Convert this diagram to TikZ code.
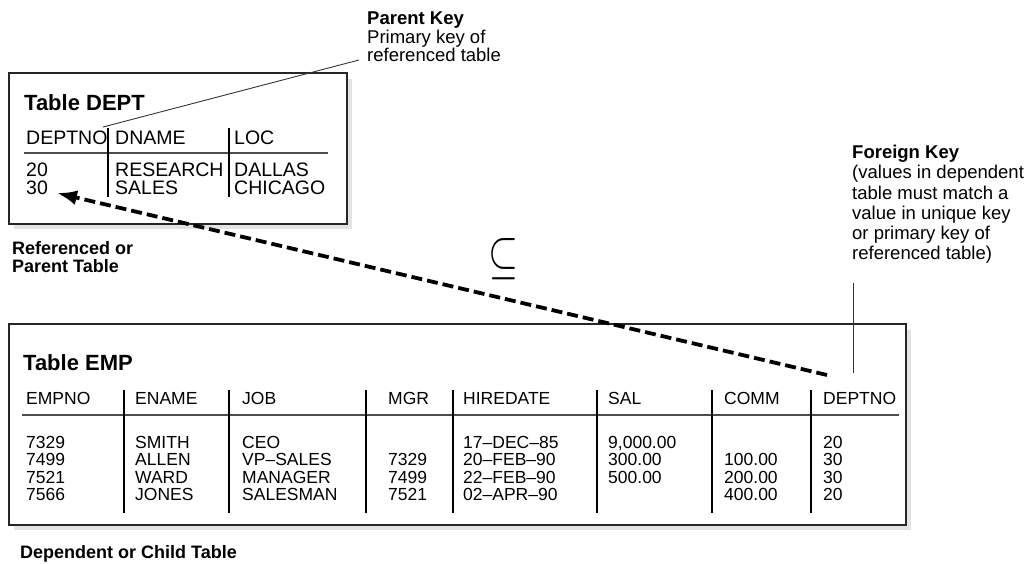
\documentclass[tikz,border=0pt]{standalone}
\usepackage{graphicx}
\usepackage{fontspec}
\setmainfont{Liberation Sans}
\usetikzlibrary{arrows.meta}

\begin{document}
\begin{tikzpicture}[x=1pt,y=-1pt,
    tablebox/.style={draw=black!85,line width=1.8pt,fill=white},
    boxshadow/.style={fill=black!11},
    tabletitle/.style={anchor=west,inner sep=0pt,font=\fontsize{22}{22}\selectfont\bfseries},
    head/.style={anchor=west,inner sep=0pt,font=\fontsize{17.5}{17.5}\selectfont},
    cell/.style={anchor=north west,inner sep=0pt,align=left,font=\fontsize{17.5}{17.5}\selectfont},
    bighead/.style={head,font=\fontsize{19.5}{18}\selectfont},
    bigcell/.style={cell,font=\fontsize{19.5}{18}\selectfont},
    colsep/.style={line width=1.8pt},
    headrule/.style={draw=black!70,line width=1.3pt},
    caption/.style={anchor=north west,inner sep=0pt,align=left,font=\fontsize{18}{18}\selectfont\bfseries},
    callout/.style={anchor=north west,inner sep=0pt,align=left},
    leader/.style={line width=0.9pt,draw=black!80}
  ]
  \useasboundingbox (0,0) rectangle (1031,563);

  % parent table
  \fill[boxshadow] (14,79) rectangle (352,229);
  \draw[tablebox] (9,73) rectangle (347,224);
  \node[tabletitle] (depttitle) at (24,103) {Table DEPT};
  \node[bighead] (deptno) at (26,138) {DEPTNO};
  \node[bighead] (dname) at (115,138) {DNAME};
  \node[bighead] (loc) at (234,138) {LOC};
  \draw[headrule] (24,153) -- (328,153);
  \draw[colsep] (108,128) -- (108,197);
  \draw[colsep] (229,128) -- (229,197);
  \node[bigcell] (deptnos) at (26,163) {20\\30};
  \node[bigcell] (dnames) at (115,163) {RESEARCH\\SALES};
  \node[bigcell] (locs) at (234,163) {DALLAS\\CHICAGO};
  \node[caption] (parentcap) at (12,241) {Referenced or\\Parent Table};

  % child table
  \fill[boxshadow] (14,330) rectangle (911,530);
  \draw[tablebox] (9,324) rectangle (906,525);
  \node[tabletitle] (emptitle) at (23,363) {Table EMP};
  \node[head] (empno) at (26,398) {EMPNO};
  \node[head] (ename) at (135,398) {ENAME};
  \node[head] (job) at (242,398) {JOB};
  \node[head] (mgr) at (388,398) {MGR};
  \node[head] (hiredate) at (463,398) {HIREDATE};
  \node[head] (sal) at (608,398) {SAL};
  \node[head] (comm) at (724,398) {COMM};
  \node[head] (empdept) at (823,398) {DEPTNO};
  \draw[headrule] (22,415) -- (899,415);
  \foreach \x in {124,229,366,453,597,712,811}
    \draw[colsep] (\x,390) -- (\x,513);
  \node[cell] (empnos) at (26,436) {7329\\7499\\7521\\7566};
  \node[cell] (enames) at (135,436) {SMITH\\ALLEN\\WARD\\JONES};
  \node[cell] (jobs) at (242,436) {CEO\\VP–SALES\\MANAGER\\SALESMAN};
  \node[cell] (mgrs) at (388,436) {\phantom{0}\\7329\\7499\\7521};
  \node[cell] (hiredates) at (463,436) {17–DEC–85\\20–FEB–90\\22–FEB–90\\02–APR–90};
  \node[cell] (sals) at (608,436) {9,000.00\\300.00\\500.00};
  \node[cell] (comms) at (724,436) {\phantom{0}\\100.00\\200.00\\400.00};
  \node[cell] (empdepts) at (823,436) {20\\30\\30\\20};
  \node[caption] (childcap) at (20,545) {Dependent or Child Table};

  % keys
  \node[callout,font=\fontsize{18.5}{18.5}\selectfont] (parentkey) at (367,12)
    {\textbf{Parent Key}\\Primary key of\\referenced table};
  \node[callout,font=\fontsize{18.5}{20.2}\selectfont] (foreignkey) at (852,145)
    {\textbf{Foreign Key}\\(values in dependent\\table must match a\\value in unique key\\or primary key of\\referenced table)};
  \coordinate (pkfoot) at (359,60);
  \coordinate (pkhead) at (103,127);
  \coordinate (fkfoot) at (853,283);
  \coordinate (fkhead) at (853,373);
  \coordinate (fkstart) at (827,375);
  \coordinate (pkend) at (57,193);
  \draw[leader] (pkfoot) -- (pkhead);
  \draw[leader] (fkfoot) -- (fkhead);
  \draw[line width=3.8pt,dash pattern=on 11pt off 5pt,-{Latex[length=20pt,width=15pt]}]
    (fkstart) -- (pkend);
  \node[inner sep=0pt] (subset) at (503,259) {\resizebox{30pt}{34pt}{$\subseteq$}};
\end{tikzpicture}
\end{document}
